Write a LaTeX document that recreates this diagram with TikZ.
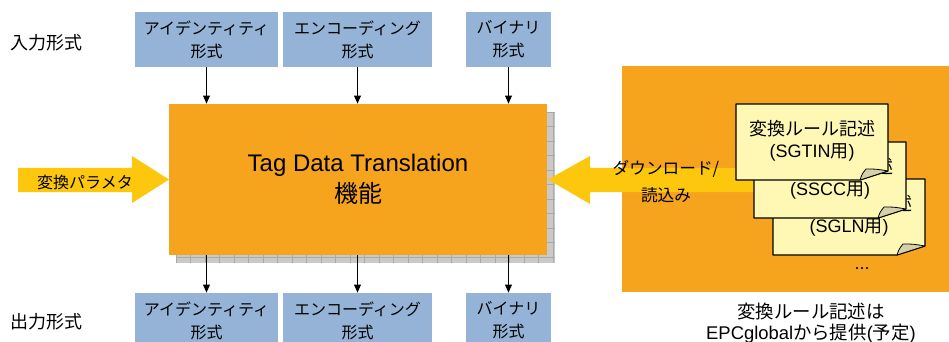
\documentclass[tikz,border=0pt]{standalone}
\usepackage{fontspec}
\setmainfont{Liberation Sans}
\newfontfamily\jp{Noto Sans CJK JP}
\usetikzlibrary{arrows.meta}

\definecolor{fmtblue}{HTML}{95B3D7}
\definecolor{tdtorange}{HTML}{F6A41E}
\definecolor{flowyellow}{HTML}{FCC70C}
\definecolor{shadowgray}{HTML}{C9C9C9}
\definecolor{gridgray}{HTML}{A9A9A9}
\definecolor{pageyellow}{HTML}{FFF8B4}
\definecolor{foldgray}{HTML}{D6D0AA}

\tikzset{
	fmtbox/.style={fill=fmtblue, minimum height=41.25pt, inner sep=0pt, align=center,
		font=\jp\fontsize{12}{17.25}\selectfont},
	mainbox/.style={fill=tdtorange, minimum width=283.5pt, minimum height=113.25pt, align=center,
		font=\fontsize{18}{23.25}\selectfont},
	sidelabel/.style={font=\jp\fontsize{13.5}{17.25}\selectfont},
	flow/.style={-{Triangle[length=6pt,width=5pt]}, line width=0.9pt},
	gridline/.style={gridgray, line width=0.5pt},
	page/.style={fill=pageyellow, draw=black, line width=0.9pt, line join=round},
	pagefold/.style={fill=foldgray, draw=black, line width=0.6pt, line join=round},
	pagetext/.style={align=center, font=\fontsize{13.5}{16.5}\selectfont},
}

%% one sheet of conversion rules: x, y of top left corner, name, text
\newcommand{\rulepage}[4]{%
	\draw[page] (#1,#2) -- ++(152,0) -- ++(0,67) -- ++(-28,9) -- ++(-124,0) -- cycle;
	\draw[pagefold] ({#1+124},{#2+76}) .. controls ({#1+126},{#2+70}) .. ({#1+130},{#2+65})
		.. controls ({#1+140},{#2+65}) .. ({#1+152},{#2+67}) -- cycle;
	\node[pagetext] (#3) at ({#1+76},{#2+37}) {#4};
}

\begin{document}
\begin{tikzpicture}[x=0.75pt,y=-0.75pt]

		%%Canvas
		\useasboundingbox (0,0) rectangle (949,342);

		%%Shadow under the main box
		\fill[shadowgray] (176,112) rectangle (555,263);
		\foreach \k in {0,...,10}
			\draw[gridline] (176,{112+14.5*\k}) -- (555,{112+14.5*\k});
		\foreach \k in {0,...,26}
			\draw[gridline] ({176+14.5*\k},112) -- ({176+14.5*\k},263);

		%%Main box
		\node[mainbox] (tdt) at (358,179.5) {Tag Data Translation\\{\jp 機能}};

		%%Input formats
		\node[sidelabel] (inlabel) at (46,43) {入力形式};
		\node[fmtbox, minimum width=107.25pt] (in1) at (206.5,39.5) {アイデンティティ\\形式};
		\node[fmtbox, minimum width=111.75pt] (in2) at (357.5,39.5) {エンコーディング\\形式};
		\node[fmtbox, minimum width=63.75pt] (in3) at (508.5,39.5) {バイナリ\\形式};

		\draw[flow] (in1) -- (in1 |- tdt.north);
		\draw[flow] (in2) -- (in2 |- tdt.north);
		\draw[flow] (in3) -- (in3 |- tdt.north);

		%%Output formats
		\node[sidelabel] (outlabel) at (46,322) {出力形式};
		\node[fmtbox, minimum width=107.25pt] (out1) at (206.5,320.5) {アイデンティティ\\形式};
		\node[fmtbox, minimum width=111.75pt] (out2) at (357.5,320.5) {エンコーディング\\形式};
		\node[fmtbox, minimum width=63.75pt] (out3) at (508.5,320.5) {バイナリ\\形式};

		\draw[flow] (tdt.south -| out1) -- (out1);
		\draw[flow] (tdt.south -| out2) -- (out2);
		\draw[flow] (tdt.south -| out3) -- (out3);

		%%Parameters
		\fill[flowyellow] (18,168) -- (132,168) -- (132,156) -- (169,179.5)
			-- (132,203) -- (132,192) -- (18,192) -- cycle;
		\node[font=\jp\fontsize{12}{14}\selectfont] (param) at (85,182) {変換パラメタ};

		%%Rule source
		\fill[tdtorange] (622,66) rectangle (949,292);
		\fill[flowyellow] (760,168) -- (590,168) -- (590,156) -- (548,179.5)
			-- (590,204) -- (590,192) -- (760,192) -- cycle;
		\node[align=center, font=\jp\fontsize{12.5}{20.25}\selectfont] (load) at (666,182)
			{ダウンロード/\\読込み};

		\rulepage{773}{179}{sgln}{{\jp 変換ルール記述}\\(SGLN{\jp 用})}
		\rulepage{754}{142}{sscc}{{\jp 変換ルール記述}\\(SSCC{\jp 用})}
		\rulepage{736}{104}{sgtin}{{\jp 変換ルール記述}\\(SGTIN{\jp 用})}

		\node[font=\fontsize{13.5}{15}\selectfont] (more) at (862,269) {...};

		\node[align=center, font=\fontsize{13.8}{15.75}\selectfont] (note) at (811,323)
			{{\jp 変換ルール記述は}\\EPCglobal{\jp から提供}({\jp 予定})};

\end{tikzpicture}
\end{document}
